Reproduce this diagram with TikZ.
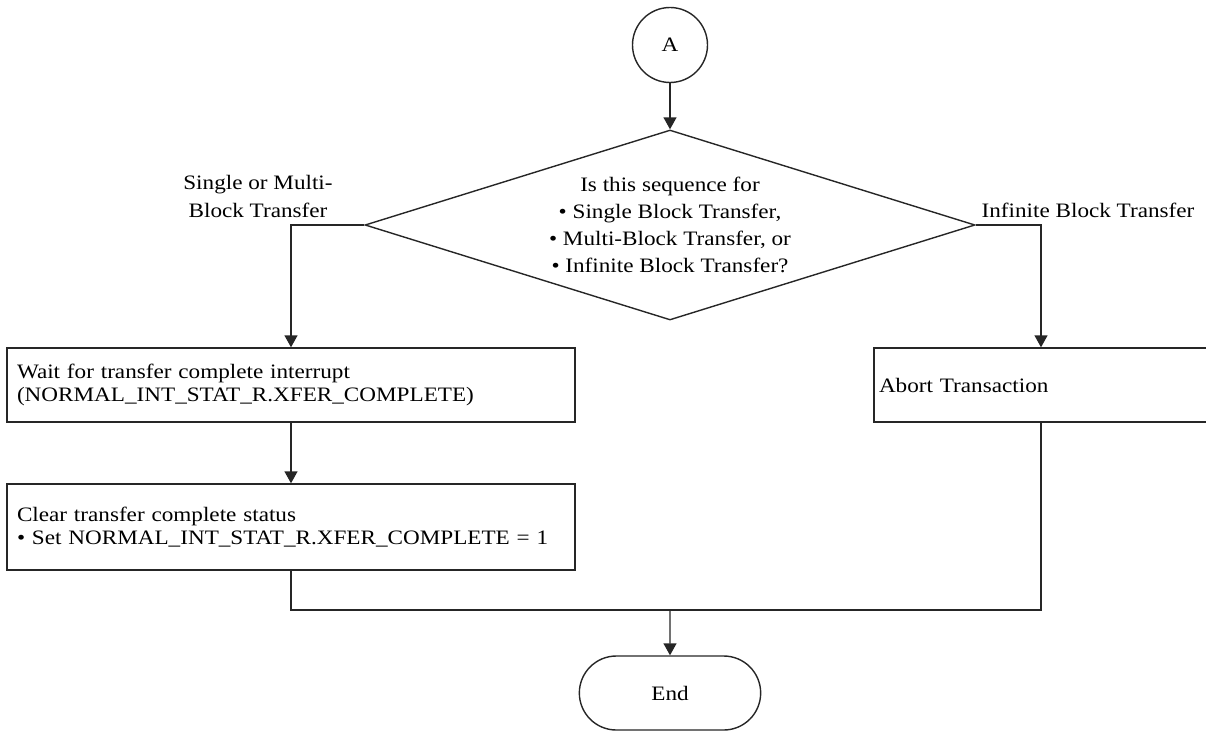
\documentclass[tikz,border=0pt]{standalone}
\usepackage{fontspec}
\setmainfont{Liberation Serif}[FakeStretch=1.13]
\usetikzlibrary{shapes.geometric,shapes.misc,arrows.meta}
\begin{document}
\begin{tikzpicture}[x=1pt,y=-1pt,
  every node/.style={font=\fontsize{20.5}{23}\selectfont},
  flow/.style={draw=black!85, line width=1.4pt},
  arrowline/.style={flow, -{Triangle[width=13pt,length=12pt]}},
  outline/.style={draw=black!85, line width=1.4pt},
  procbox/.style={outline, rectangle, align=left, inner xsep=10pt, inner ysep=0pt},
  decision/.style={outline, diamond, aspect=3.21, minimum width=610pt, minimum height=190pt,
    inner sep=0pt, align=center, font=\fontsize{20.5}{27}\selectfont},
  terminal/.style={outline, rounded rectangle, minimum width=188pt, minimum height=74pt},
  connector/.style={outline, circle, minimum size=75pt, inner sep=0pt},
  branchlabel/.style={align=center, inner sep=0pt, font=\fontsize{20.5}{28}\selectfont}
]
\useasboundingbox (0,0) rectangle (1206,733);

% nodes
\node[connector] (A) at (670,45) {A};
\node[decision] (Q) at (670,225) {Is this sequence for\\
  • Single Block Transfer,\\
  • Multi-Block Transfer, or\\
  • Infinite Block Transfer?};
\node[procbox, text width=548pt, minimum height=74pt] (wait) at (291,385)
  {Wait for transfer complete interrupt\\(NORMAL\_INT\_STAT\_R.XFER\_COMPLETE)};
\node[procbox, text width=548pt, minimum height=86pt] (clear) at (291,527)
  {Clear transfer complete status\\• Set NORMAL\_INT\_STAT\_R.XFER\_COMPLETE = 1};
\node[procbox, text width=324pt, inner xsep=5pt, minimum height=74pt] (abort) at (1041,385)
  {Abort Transaction};
\node[terminal] (end) at (670,693) {End};
\coordinate (merge) at (670,610);

% branch labels
\node[branchlabel] (lblL) at (258,196) {Single or Multi-\\Block Transfer};
\node[branchlabel, anchor=base] (lblR) at (1088,217) {Infinite Block Transfer};

% connectors
\draw[arrowline] (A) -- (Q);
\draw[arrowline] (Q.west) -| (wait.north);
\draw[arrowline] (Q.east) -| (abort.north);
\draw[arrowline] (wait) -- (clear);
\draw[flow] (clear.south) |- (merge) -| (abort.south);
\draw[arrowline] (merge) -- (end);
\end{tikzpicture}
\end{document}
